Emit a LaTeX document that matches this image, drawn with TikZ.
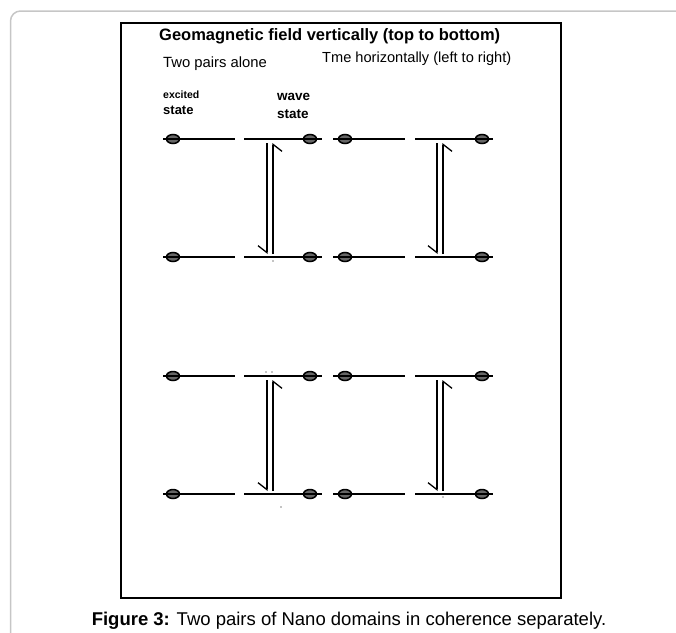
\documentclass[tikz,border=0pt]{standalone}
\usepackage{fontspec}
\setmainfont{Liberation Sans}
\usetikzlibrary{arrows.meta,shapes.geometric,positioning}

\tikzset{
  bead/.style={ellipse,draw,line width=1.5pt,fill=black!60,minimum width=13pt,minimum height=9pt,inner sep=0pt},
  level/.style={line width=2.8pt},
  thinlevel/.style={line width=2.1pt},
  down/.style={line width=1.5pt,-{Straight Barb[right,length=7pt,width=18pt,line width=1.3pt]}},
  up/.style={line width=1.5pt,-{Straight Barb[right,length=7pt,width=18pt,line width=1.3pt]}},
  lbl/.style={anchor=west,inner sep=0pt}
}

\begin{document}
\begin{tikzpicture}[x=1pt,y=-1pt]
    \useasboundingbox (0,0) rectangle (676,632);
    % frame of the page and of the figure
    \draw[gray!45,line width=1.5pt,rounded corners=10pt] (10.5,640) -- (10.5,11) -- (690,11);
    \draw[line width=1.5pt] (121,23) rectangle (561,598);

    % texts
    \node[lbl,font=\bfseries\fontsize{16.5}{18}\selectfont] (title) at (159,36) {Geomagnetic field vertically (top to bottom)};
    \node[lbl,font=\fontsize{14.8}{16}\selectfont] (pairs) at (163,64) {Two pairs alone};
    \node[lbl,font=\fontsize{14.6}{16}\selectfont] (timeaxis) at (322,59) {Tme horizontally (left to right)};
    \node[lbl,font=\bfseries\fontsize{10.5}{12}\selectfont] (excited) at (163,95) {excited};
    \node[lbl,font=\bfseries\fontsize{13}{15}\selectfont] (exstate) at (163,110) {state};
    \node[lbl,font=\bfseries\fontsize{13.5}{15}\selectfont] (wave) at (277,97) {wave};
    \node[lbl,font=\bfseries\fontsize{13.5}{15}\selectfont] (wvstate) at (277,114) {state};

    % energy levels
    \coordinate (a1s) at (163,139); \coordinate (a1e) at (235,139);
    \coordinate (b1s) at (244,139); \coordinate (b1e) at (322,139);
    \coordinate (c1s) at (333,139); \coordinate (c1e) at (405,139);
    \coordinate (d1s) at (415,139); \coordinate (d1e) at (493,139);
    \coordinate (a2s) at (163,257); \coordinate (a2e) at (235,257);
    \coordinate (b2s) at (244,257); \coordinate (b2e) at (322,257);
    \coordinate (c2s) at (333,257); \coordinate (c2e) at (405,257);
    \coordinate (d2s) at (415,257); \coordinate (d2e) at (493,257);
    \coordinate (a3s) at (163,376); \coordinate (a3e) at (235,376);
    \coordinate (b3s) at (244,376); \coordinate (b3e) at (322,376);
    \coordinate (c3s) at (333,376); \coordinate (c3e) at (405,376);
    \coordinate (d3s) at (415,376); \coordinate (d3e) at (493,376);
    \coordinate (a4s) at (163,494); \coordinate (a4e) at (235,494);
    \coordinate (b4s) at (244,494); \coordinate (b4e) at (322,494);
    \coordinate (c4s) at (333,494); \coordinate (c4e) at (405,494);
    \coordinate (d4s) at (415,494); \coordinate (d4e) at (493,494);

    \node[bead] (p1a) at (173,139) {}; \node[bead] (p1b) at (310,139) {};
    \node[bead] (p1c) at (345,139) {}; \node[bead] (p1d) at (482,139) {};
    \node[bead] (p2a) at (173,257) {}; \node[bead] (p2b) at (310,257) {};
    \node[bead] (p2c) at (345,257) {}; \node[bead] (p2d) at (482,257) {};
    \node[bead] (p3a) at (173,376) {}; \node[bead] (p3b) at (310,376) {};
    \node[bead] (p3c) at (345,376) {}; \node[bead] (p3d) at (482,376) {};
    \node[bead] (p4a) at (173,494) {}; \node[bead] (p4b) at (310,494) {};
    \node[bead] (p4c) at (345,494) {}; \node[bead] (p4d) at (482,494) {};

    \draw[level] (a1s) -- (a1e) (b1s) -- (b1e) (c1s) -- (c1e) (d1s) -- (d1e);
    \draw[thinlevel] (a2s) -- (a2e) (b2s) -- (b2e) (c2s) -- (c2e) (d2s) -- (d2e);
    \draw[thinlevel] (a3s) -- (a3e) (b3s) -- (b3e) (c3s) -- (c3e) (d3s) -- (d3e);
    \draw[level] (a4s) -- (a4e) (b4s) -- (b4e);
    \draw[thinlevel] (c4s) -- (c4e) (d4s) -- (d4e);

    % transitions
    \coordinate (t1) at (267,143); \coordinate (u1) at (273,143);
    \coordinate (t2) at (267,254); \coordinate (u2) at (273,254);
    \coordinate (t3) at (437,143); \coordinate (u3) at (443,143);
    \coordinate (t4) at (437,254); \coordinate (u4) at (443,254);
    \coordinate (t5) at (267,380); \coordinate (u5) at (273,380);
    \coordinate (t6) at (267,491); \coordinate (u6) at (273,491);
    \coordinate (t7) at (437,380); \coordinate (u7) at (443,380);
    \coordinate (t8) at (437,491); \coordinate (u8) at (443,491);

    \draw[down] (t1) -- (t2);  \draw[up] (u2) -- (u1);
    \draw[down] (t3) -- (t4);  \draw[up] (u4) -- (u3);
    \draw[down] (t5) -- (t6);  \draw[up] (u6) -- (u5);
    \draw[down] (t7) -- (t8);  \draw[up] (u8) -- (u7);

    % specks of the scan
    \fill (273,261) circle (0.7) (266,372) circle (0.7) (272,372) circle (0.7)
          (281,507) circle (0.7) (443,497) circle (0.7);

    % caption
    \node[font=\fontsize{18.5}{20}\selectfont] (caption) at (349,621) {\textbf{Figure 3:} Two pairs of Nano domains in coherence separately.};
\end{tikzpicture}
\end{document}
